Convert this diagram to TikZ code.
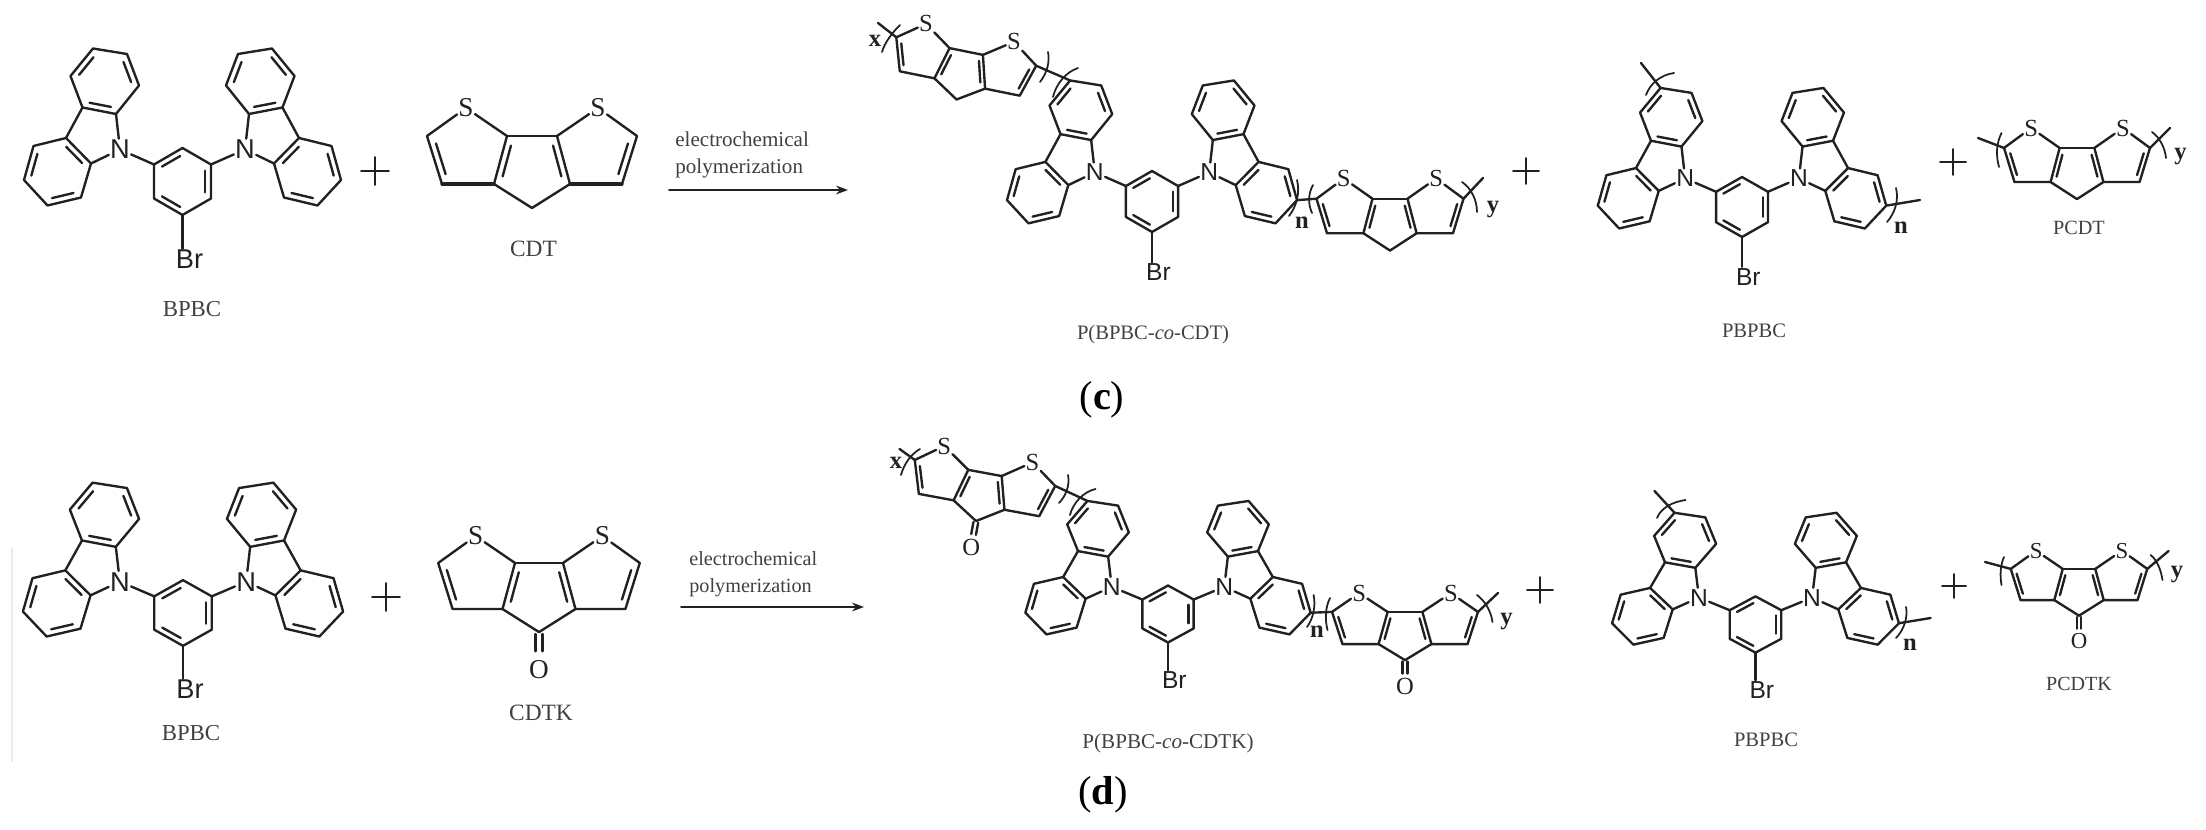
\documentclass[tikz,border=0pt]{standalone}
\usepackage{fontspec}
\setmainfont{Liberation Serif}
\newfontfamily\sansatom{Liberation Sans}
\usetikzlibrary{arrows.meta,calc,positioning}
\definecolor{bondgray}{rgb}{0.13,0.13,0.13}
\definecolor{labelgray}{rgb}{0.25,0.25,0.25}

\tikzset{
    bond/.style={draw=bondgray,line width=1.35pt,line join=round,line cap=round},
    bracket/.style={draw=bondgray,line width=1pt,line cap=round},
    atomN/.style={inner sep=0.6pt,text=bondgray},
    atomS/.style={inner sep=0.6pt,text=bondgray},
    caption/.style={inner sep=0pt,text=labelgray},
    repeatlabel/.style={inner sep=0pt,text=bondgray,font=\bfseries\fontsize{14}{14}\selectfont},
    panellabel/.style={inner sep=0pt,text=black,font=\fontsize{23}{23}\selectfont}
}

\newcommand{\dbl}[3]{\draw[bond] ($(#1)!.1!(#2)!.2!(#3)$) -- ($(#2)!.1!(#1)!.2!(#3)$);}
\newcommand{\plusat}[4]{\coordinate (#1) at (#2,#3);
    \draw[bond,line width=1.1pt] ($(#1)+(-#4,0)$) -- ($(#1)+(#4,0)$) ($(#1)+(0,-#4)$) -- ($(#1)+(0,#4)$);}

\newcommand{\bpbcmol}[3]{%
    \begin{scope}[name prefix=#1-,#2]
        \coordinate (top) at (0,-33.5);
        \coordinate (bot) at (0,33.5);
        \coordinate (mid) at (0,0);
        \node[atomN,font=\sansatom\fontsize{#3}{#3}\selectfont] (Br) at (7,78) {Br};
        \foreach \m/\p in {1/R,-1/L}{
            \coordinate (us\p) at ({\m*28.5},-17);
            \coordinate (ls\p) at ({\m*28.5},17);
            \node[atomN,font=\sansatom\fontsize{#3}{#3}\selectfont] (N\p) at ({\m*62.5},-32) {N};
            \coordinate (a\p) at ({\m*66.5},-67.5);
            \coordinate (b\p) at ({\m*100},-74);
            \coordinate (c\p) at ({\m*112},-105.5);
            \coordinate (d\p) at ({\m*89.5},-133);
            \coordinate (e\p) at ({\m*55.5},-127.5);
            \coordinate (f\p) at ({\m*43.5},-96);
            \coordinate (g\p) at ({\m*116.5},-43.5);
            \coordinate (h\p) at ({\m*91.5},-18);
            \coordinate (i\p) at ({\m*101.5},16);
            \coordinate (j\p) at ({\m*135},24);
            \coordinate (k\p) at ({\m*158.5},-1.5);
            \coordinate (l\p) at ({\m*149},-35.5);
            \coordinate (upc\p) at ($(a\p)!.5!(d\p)$);
            \coordinate (loc\p) at ($(g\p)!.5!(j\p)$);
            \draw[bond] (a\p) -- (b\p) -- (c\p) -- (d\p) -- (e\p) -- (f\p) -- cycle;
            \draw[bond] (g\p) -- (h\p) -- (i\p) -- (j\p) -- (k\p) -- (l\p) -- cycle;
            \draw[bond] (b\p) -- (g\p);
            \draw[bond] (N\p) -- (a\p);
            \draw[bond] (N\p) -- (h\p);
            \draw[bond] (N\p) -- (us\p);
            \dbl{a\p}{b\p}{upc\p}
            \dbl{c\p}{d\p}{upc\p}
            \dbl{e\p}{f\p}{upc\p}
            \dbl{g\p}{h\p}{loc\p}
            \dbl{i\p}{j\p}{loc\p}
            \dbl{k\p}{l\p}{loc\p}
        }
        \draw[bond] (top) -- (usR) -- (lsR) -- (bot) -- (lsL) -- (usL) -- cycle;
        \dbl{usL}{top}{mid}
        \dbl{usR}{lsR}{mid}
        \dbl{lsL}{bot}{mid}
        \draw[bond] (bot) -- (bot |- Br.north);
    \end{scope}}

\newcommand{\cdtmol}[3]{%
    \begin{scope}[name prefix=#1-,#2]
        \coordinate (t) at (0,48);
        \coordinate (cen) at (0,5);
        \foreach \m/\p in {1/R,-1/L}{
            \coordinate (o\p) at ({\m*105},-24);
            \coordinate (p\p) at ({\m*90},24);
            \coordinate (q\p) at ({\m*38},24);
            \coordinate (r\p) at ({\m*25},-24);
            \coordinate (thc\p) at ({\m*66},-6);
            \node[atomS,font=\fontsize{#3}{#3}\selectfont] (S\p) at ({\m*66},-52) {S};
            \draw[bond] (S\p) -- (o\p) -- (p\p) -- (q\p) -- (r\p);
            \draw[bond] (r\p) -- (S\p);
            \draw[bond] (q\p) -- (t);
            \dbl{o\p}{p\p}{thc\p}
            \dbl{q\p}{r\p}{cen}
        }
        \draw[bond] (rL) -- (rR);
    \end{scope}}

\newcommand{\cdtkmol}[3]{%
    \cdtmol{#1}{#2}{#3}
    \begin{scope}[name prefix=#1-,#2]
        \node[atomS,font=\fontsize{#3}{#3}\selectfont] (O) at (0,87) {O};
        \draw[bond] (-3.5,50) -- (-3.5,68);
        \draw[bond] (3.5,50) -- (3.5,68);
    \end{scope}}

\begin{document}
\begin{tikzpicture}[x=0.2mm,y=-0.2mm,>={Stealth[length=6.8pt,width=5pt]}]
    \useasboundingbox (0,0) rectangle (2206,830);

    \bpbcmol{bpa}{shift={(182.5,181.5)}}{15.5}
    \cdtmol{cda}{shift={(532,160)}}{15.5}
    \draw[bond,line width=1.9pt] (cda-pL) -- (cda-qL);
    \draw[bond,line width=1.9pt] (cda-pR) -- (cda-qR);
    \plusat{plusa}{375}{171}{14}
    \node[caption,font=\fontsize{13}{13}\selectfont] (bpbca) at (192,309) {BPBC};
    \node[caption,font=\fontsize{13.3}{13.3}\selectfont] (cdtname) at (533.5,249) {CDT};

    \node[caption,anchor=west,font=\fontsize{12}{12}\selectfont] (elca) at (675,139) {electrochemical};
    \node[caption,anchor=west,font=\fontsize{12}{12}\selectfont] (pola) at (675,168) {polymerization};
    \coordinate (arrAs) at (669,190);
    \coordinate (arrAe) at (848,190);
    \draw[->,bond,line width=1pt] (arrAs) -- (arrAe);

    \bpbcmol{bpb}{shift={(1152,201.5)},xscale=.915,yscale=.91}{14}
    \cdtmol{cdb}{shift={(963,67.5)},rotate=-11.5,scale=.68}{14}
    \cdtmol{cdc}{shift={(1390,216)},xscale=.7,yscale=.72}{14}
    \coordinate (endxa) at (878,23);
    \draw[bond] (cdb-oL) -- (endxa);
    \draw[bracket] (900,25) .. controls (892,33) and (885,42) .. (882,52);
    \node[repeatlabel] (xa) at (875,41) {x};
    \draw[bond] (cdb-oR) -- (bpb-dL);
    \draw[bracket] (1048,52) .. controls (1050,62) and (1047,73) .. (1040,82);
    \draw[bracket] (1078,68) .. controls (1066,72) and (1056,84) .. (1053,97);
    \draw[bond] (bpb-kR) -- (cdc-oL);
    \draw[bracket] (1297,180) .. controls (1300,192) and (1297,206) .. (1289,216);
    \draw[bracket] (1313,185) .. controls (1308,194) and (1308,204) .. (1312,213);
    \node[repeatlabel] (na) at (1302,223) {n};
    \coordinate (endya) at (1483,178);
    \draw[bond] (cdc-oR) -- (endya);
    \draw[bracket] (1462,182) .. controls (1471,188) and (1477,200) .. (1477,212);
    \node[repeatlabel] (ya) at (1493,210) {y};
    \node[caption,font=\fontsize{11.7}{11.7}\selectfont] (copa) at (1153,335) {P(BPBC-\textit{co}-CDT)};

    \plusat{plusb}{1526}{171}{13}

    \bpbcmol{bpc}{shift={(1742,207)},xscale=.91,yscale=.895}{14}
    \coordinate (endpa) at (1641,63);
    \draw[bond] (bpc-dL) -- (endpa);
    \draw[bracket] (1674,73) .. controls (1660,75) and (1650,84) .. (1646,95);
    \coordinate (endpb) at (1920,200);
    \draw[bond] (bpc-kR) -- (endpb);
    \draw[bracket] (1896,188) .. controls (1899,200) and (1895,213) .. (1887,222);
    \node[repeatlabel] (nb) at (1901,228) {n};
    \node[caption,font=\fontsize{11.7}{11.7}\selectfont] (pbpbca) at (1754,331) {PBPBC};

    \plusat{plusc}{1953}{162}{13}

    \cdtmol{cdd}{shift={(2077,165)},xscale=.695,yscale=.71}{14}
    \coordinate (endqa) at (1978,138);
    \draw[bond] (cdd-oL) -- (endqa);
    \draw[bracket] (2001.5,133) .. controls (1996,144) and (1996,156) .. (1999,167);
    \coordinate (endqb) at (2170,128);
    \draw[bond] (cdd-oR) -- (endqb);
    \draw[bracket] (2152,132) .. controls (2160,138) and (2165,148) .. (2166,158);
    \node[repeatlabel] (yb) at (2180.5,157) {y};
    \node[caption,font=\fontsize{11.5}{11.5}\selectfont] (pcdt) at (2079,228) {PCDT};

    \node[panellabel] (figc) at (1102,400) {(\textbf{c})};

    \draw[black!8,line width=1pt] (12,548) -- (12,762);
    \bpbcmol{bpd}{shift={(183,613)},xscale=1.01,yscale=.98}{15.5}
    \cdtkmol{cde}{shift={(539,586)},scale=.96}{15.5}
    \plusat{plusd}{386}{597}{14}
    \node[caption,font=\fontsize{13}{13}\selectfont] (bpbcb) at (191,733) {BPBC};
    \node[caption,font=\fontsize{13.3}{13.3}\selectfont] (cdtkname) at (541,713) {CDTK};

    \node[caption,anchor=west,font=\fontsize{11.5}{11.5}\selectfont] (elcb) at (689,559) {electrochemical};
    \node[caption,anchor=west,font=\fontsize{11.5}{11.5}\selectfont] (polb) at (689,588) {polymerization};
    \coordinate (arrBs) at (681,607);
    \coordinate (arrBe) at (864,607);
    \draw[->,bond,line width=1pt] (arrBs) -- (arrBe);

    \bpbcmol{bpe}{shift={(1168,614)},xscale=.9,yscale=.85}{14}
    \cdtkmol{cdf}{shift={(982,489)},rotate=-10.5,scale=.68}{14}
    \cdtkmol{cdg}{shift={(1405,628)},xscale=.695,yscale=.67}{14}
    \coordinate (endxb) at (899.5,449);
    \draw[bond] (cdf-oL) -- (endxb);
    \draw[bracket] (920,449) .. controls (911,454) and (904,464) .. (901,475);
    \node[repeatlabel] (xb) at (896,463) {x};
    \draw[bond] (cdf-oR) -- (bpe-dL);
    \draw[bracket] (1068,475) .. controls (1070,485) and (1066,496) .. (1059,503);
    \draw[bracket] (1095.5,489) .. controls (1083,492) and (1073,503) .. (1070,515);
    \draw[bond] (bpe-kR) -- (cdg-oL);
    \draw[bracket] (1313.6,595) .. controls (1316,606) and (1313,619) .. (1307,627);
    \draw[bracket] (1330,598) .. controls (1325,608) and (1325,620) .. (1327.5,630);
    \node[repeatlabel] (nc) at (1317,632) {n};
    \coordinate (endyb) at (1498,593);
    \draw[bond] (cdg-oR) -- (endyb);
    \draw[bracket] (1477,595) .. controls (1485,601) and (1491,611) .. (1492.5,622);
    \node[repeatlabel] (yc) at (1506.4,622) {y};
    \node[caption,font=\fontsize{12}{12}\selectfont] (copb) at (1168,743) {P(BPBC-\textit{co}-CDTK)};

    \plusat{pluse}{1540}{590}{13}

    \bpbcmol{bpf}{shift={(1755.5,624.5)},xscale=.905,yscale=.84}{14}
    \coordinate (endra) at (1654.5,491);
    \draw[bond] (bpf-dL) -- (endra);
    \draw[bracket] (1685.5,500) .. controls (1672,502) and (1661,508) .. (1657,518);
    \coordinate (endrb) at (1930.6,618);
    \draw[bond] (bpf-kR) -- (endrb);
    \draw[bracket] (1906,607) .. controls (1908,617) and (1904,630) .. (1896,638);
    \node[repeatlabel] (nd) at (1910,645) {n};
    \node[caption,font=\fontsize{11.7}{11.7}\selectfont] (pbpbcb) at (1766,740) {PBPBC};

    \plusat{plusf}{1954}{586}{12}

    \cdtkmol{cdh}{shift={(2079,584.5)},scale=.65}{13}
    \coordinate (endsa) at (1985,562);
    \draw[bond] (cdh-oL) -- (endsa);
    \draw[bracket] (2004,557) .. controls (2000,566) and (2000,576) .. (2001.5,585);
    \coordinate (endsb) at (2168.6,551);
    \draw[bond] (cdh-oR) -- (endsb);
    \draw[bracket] (2150.6,555) .. controls (2157,560) and (2161,570) .. (2162.5,580);
    \node[repeatlabel] (yd) at (2177,575) {y};
    \node[caption,font=\fontsize{11.4}{11.4}\selectfont] (pcdtk) at (2079,684) {PCDTK};

    \node[panellabel] (figd) at (1103,795) {(\textbf{d})};
\end{tikzpicture}
\end{document}
